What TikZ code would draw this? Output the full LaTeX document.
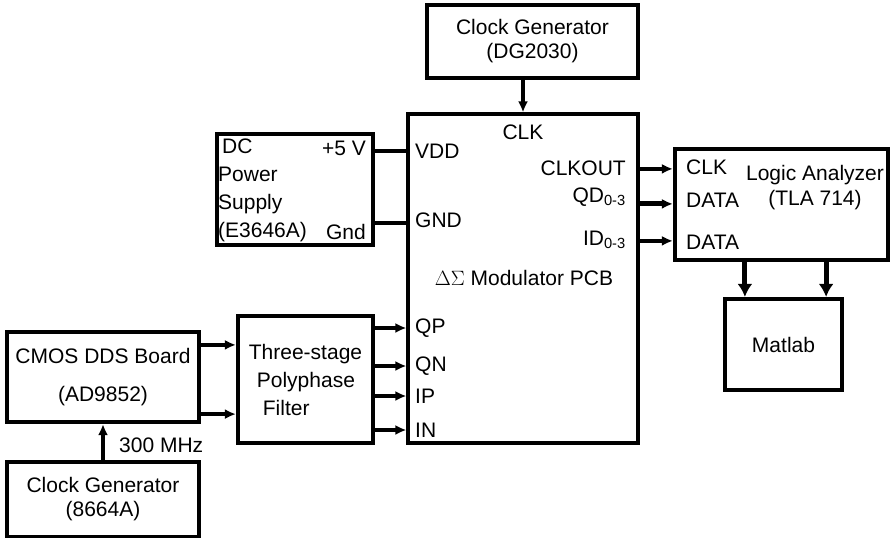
\documentclass[tikz,border=0pt]{standalone}
\usepackage{fontspec}
\setmainfont{Liberation Sans}
\usetikzlibrary{arrows.meta,positioning,calc}
\tikzset{
  arr/.style={-{Latex[length=11pt,width=10pt]}, line width=3.4pt},
  fatarr/.style={-{Latex[length=13pt,width=15pt]}, line width=5pt},
  wire/.style={line width=3.5pt},
  box/.style={
    draw, line width=4.2pt, inner sep=0pt, align=center,
    font=\fontsize{21}{24}\selectfont
  },
  pcb/.style={draw, line width=3.2pt, inner sep=0pt},
  port/.style={inner sep=0pt, font=\fontsize{21}{24}\selectfont},
}

\begin{document}
\begin{tikzpicture}[x=1pt,y=-1pt]
\useasboundingbox (0,0) rectangle (894,538);

% ---- Clock generator (top) ----
\node[box, minimum width=211pt, minimum height=73pt] (gen1) at (532.5,41.5)
  {Clock Generator\\(DG2030)};

% ---- Modulator PCB ----
\node[pcb, minimum width=230pt, minimum height=329pt] (mod) at (523,278.5) {};
\node[port] (clk) at (523,132) {CLK};
\node[port, anchor=west] (vdd) at (415,151) {VDD};
\node[port, anchor=west] (gnd) at (415,220) {GND};
\node[port, anchor=east] (clkout) at (626,168) {CLKOUT};
\node[port, anchor=east] (qd) at (626,197) {QD\textsubscript{0-3}};
\node[port, anchor=east] (id) at (626,240) {ID\textsubscript{0-3}};
\node[port] (title) at (524,278) {$\Delta\Sigma$ Modulator PCB};
\node[port, anchor=west] (qp) at (415,328) {QP};
\node[port, anchor=west] (qn) at (415,366) {QN};
\node[port, anchor=west] (ip) at (415,396) {IP};
\node[port, anchor=west] (inn) at (415,430) {IN};

% ---- DC power supply ----
\node[box, minimum width=156pt, minimum height=111pt] (psu) at (295,189.5) {};
\node[port, anchor=west, align=left, font=\fontsize{21}{28}\selectfont] (psutxt)
  at (218,190) {\hspace{4pt}DC\\Power\\Supply\\(E3646A)};
\node[port, anchor=east] (p5v) at (366,148) {+5 V};
\node[port, anchor=east] (pgnd) at (366,232) {Gnd};

% ---- Polyphase filter ----
\node[box, minimum width=135pt, minimum height=127pt, align=left,
  font=\fontsize{21}{28}\selectfont] (filt) at (305.5,379.5)
  {Three-stage\\\hspace{8pt}Polyphase\\\hspace{14pt}Filter};

% ---- DDS board ----
\node[box, minimum width=192pt, minimum height=90pt] (dds) at (103,377)
  {CMOS DDS Board\\[14pt](AD9852)};

% ---- Clock generator (bottom) ----
\node[box, minimum width=192pt, minimum height=75pt] (gen2) at (103,499.5)
  {Clock Generator\\(8664A)};
\node[port, anchor=west] (mhz) at (119,445) {300 MHz};

% ---- Logic analyzer ----
\node[box, minimum width=213pt, minimum height=111pt] (la) at (781.5,204.5) {};
\node[port, anchor=west] (laclk) at (686,167) {CLK};
\node[port, anchor=west] (ladata1) at (686,200) {DATA};
\node[port, anchor=west] (ladata2) at (686,242) {DATA};
\node[port, align=center, font=\fontsize{21}{25}\selectfont] (latitle)
  at (815,187.5) {Logic Analyzer\\(TLA 714)};

% ---- Matlab ----
\node[box, minimum width=117pt, minimum height=91pt] (ml) at (783.5,344.5) {Matlab};

% ---- Connections ----
\draw[arr] (gen1.south -| clk) -- (mod.north -| clk);
\draw[wire] (psu.east |- vdd) -- (mod.west |- vdd);
\draw[wire] (psu.east |- 0,223) -- (mod.west |- 0,223);

\draw[arr] (filt.east |- qp) -- (mod.west |- qp);
\draw[arr, line width=4.4pt] (filt.east |- qn) -- (mod.west |- qn);
\draw[arr] (filt.east |- ip) -- (mod.west |- ip);
\draw[arr] (filt.east |- inn) -- (mod.west |- inn);

\draw[arr, line width=4.6pt] ([yshift=-15pt]dds.north east) coordinate (d1)
  -- (filt.west |- d1);
\draw[arr] ([yshift=10pt]dds.south east) coordinate (d2) -- (filt.west |- d2);
\draw[arr] (gen2.north) -- (dds.south);

\coordinate (a1) at ([yshift=-22pt]la.north west);
\coordinate (a2) at ([yshift=-57pt]la.north west);
\coordinate (a3) at ([yshift=-94pt]la.north west);
\draw[arr] (mod.east |- a1) -- (a1);
\draw[arr, line width=5pt] (mod.east |- a2) -- (a2);
\draw[arr, line width=4.2pt] (mod.east |- a3) -- (a3);

\coordinate (m1) at ([xshift=22pt]ml.north west);
\coordinate (m2) at ([xshift=-18pt]ml.north east);
\draw[fatarr] (la.south -| m1) -- (m1);
\draw[fatarr] (la.south -| m2) -- (m2);

\end{tikzpicture}
\end{document}
